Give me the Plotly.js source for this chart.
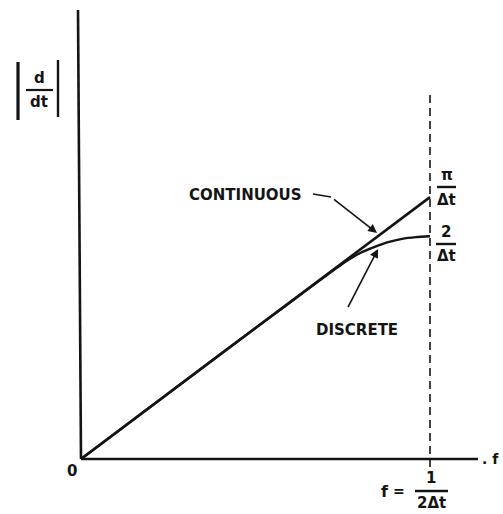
<!DOCTYPE html>
<html>
<head>
<meta charset="utf-8">
<script src="https://cdn.plot.ly/plotly-3.0.1.min.js"></script>
<style>
  html, body { margin: 0; padding: 0; background: #fff; }
  #chart { width: 503px; height: 514px; }
</style>
</head>
<body>
<div id="chart"></div>
<script>
// Frequency in units of 1/Δt; 0.5 is the folding frequency f = 1/(2Δt).
const nyquist = 0.5;
// Magnitude response of the continuous derivative (straight line up to π/Δt).
const contFreq = [0, 0.5];
const contMag = [0, 3.14];
// Magnitude response of the discrete (difference) derivative, bending over to 2/Δt.
const discFreq = [0, 0.2, 0.3, 0.35, 0.38, 0.40, 0.42, 0.44, 0.46, 0.48, 0.5];
const discMag = [0, 1.26, 1.88, 2.19, 2.37, 2.47, 2.54, 2.60, 2.64, 2.66, 2.67];

const W = 503, H = 514;
// Plot area fills the whole page; origin sits at (81, 459) in page pixels.
const X0 = 81, Y0 = 459, XS = 698, YS = 83.4;
const dx = px => (px - X0) / XS;
const dy = py => (Y0 - py) / YS;

const ink = '#141414';
const font = (size) => ({ family: 'DejaVu Sans, Liberation Sans, sans-serif', size: size, color: ink });

const traces = [
  { x: contFreq, y: contMag, mode: 'lines', line: { color: ink, width: 2.6 }, hoverinfo: 'skip' },
  { x: discFreq, y: discMag, mode: 'lines', line: { color: ink, width: 2.4, shape: 'spline', smoothing: 0.6 }, hoverinfo: 'skip' }
];

function seg(x0, y0, x1, y1, width, dash) {
  return { type: 'line', xref: 'x', yref: 'y', x0: x0, y0: y0, x1: x1, y1: y1,
           line: { color: ink, width: width, dash: dash || 'solid' } };
}

const shapes = [
  // axes
  seg(0, 0, dx(78), dy(10), 2.6),
  seg(0, 0, dx(478), 0, 2.6),
  // folding frequency marker
  seg(nyquist, dy(467), nyquist, dy(92), 1.6, '8px,5px'),
  // |d/dt| label: bars and fraction line
  seg(dx(18), dy(62), dx(18), dy(120), 3.2),
  seg(dx(58), dy(60), dx(58), dy(117), 2.4),
  seg(dx(26), dy(90), dx(53), dy(90), 2.2),
  // fraction lines of the end labels
  seg(dx(437), dy(187), dx(456), dy(187), 2.4),
  seg(dx(436), dy(244), dx(456), dy(244), 2.4),
  seg(dx(415), dy(491), dx(448), dy(491), 2.4),
  // start of the CONTINUOUS leader
  seg(dx(313), dy(194), dx(331), dy(197), 1.6)
];

function label(text, px, py, size, extra) {
  return Object.assign({ text: '<b>' + text + '</b>', x: dx(px), y: dy(py), xref: 'x', yref: 'y',
    showarrow: false, font: font(size), xanchor: 'center', yanchor: 'middle' }, extra || {});
}

const annotations = [
  label('CONTINUOUS', 245, 195, 15),
  label('DISCRETE', 357, 330, 15),
  label('0', 72, 471, 15),
  label('d', 39, 78, 15),
  label('dt', 39, 102, 15),
  label('π', 447, 175, 15),
  label('Δt', 446, 200, 15),
  label('2', 446, 232, 15),
  label('Δt', 446, 256, 15),
  label('f', 385, 491, 16),
  label('=', 399, 491, 14),
  label('1', 431, 478, 15),
  label('2Δt', 431, 503, 15),
  label('. f', 501, 459, 14, { xanchor: 'right' }),
  // leaders pointing at the two curves
  { text: ' ', x: dx(377), y: dy(233), xref: 'x', yref: 'y', showarrow: true,
    ax: -46, ay: -36, arrowhead: 2, arrowsize: 1.1, arrowwidth: 1.6, arrowcolor: ink, standoff: 0 },
  { text: ' ', x: dx(378), y: dy(249), xref: 'x', yref: 'y', showarrow: true,
    ax: -33, ay: 64, arrowhead: 2, arrowsize: 1.1, arrowwidth: 1.6, arrowcolor: ink, standoff: 0 }
];

const hidden = { visible: false, fixedrange: true };
const layout = {
  width: W, height: H,
  margin: { l: 0, r: 0, t: 0, b: 0 },
  paper_bgcolor: '#ffffff', plot_bgcolor: '#ffffff',
  showlegend: false,
  xaxis: Object.assign({ range: [dx(0), dx(W)] }, hidden),
  yaxis: Object.assign({ range: [dy(H), dy(0)] }, hidden),
  shapes: shapes,
  annotations: annotations
};

Plotly.newPlot('chart', traces, layout, { staticPlot: true, displayModeBar: false });
</script>
</body>
</html>
